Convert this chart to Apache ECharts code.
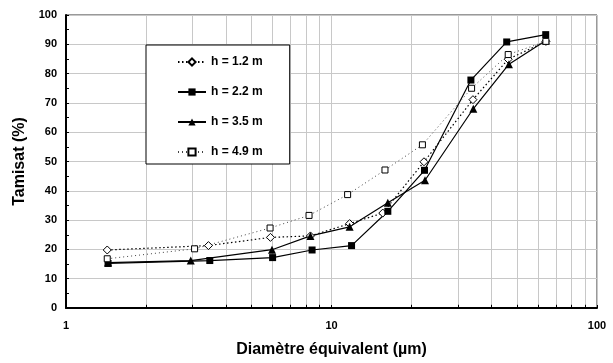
<!DOCTYPE html>
<html>
<head>
<meta charset="utf-8">
<script src="https://cdn.jsdelivr.net/npm/echarts@6/dist/echarts.min.js"></script>
<style>html,body{margin:0;padding:0;background:#fff;}#c{width:613px;height:363px;}</style>
</head>
<body>
<div id="c"></div>
<script>
// Data
const seriesNames = ['h = 1.2 m', 'h = 2.2 m', 'h = 3.5 m', 'h = 4.9 m'];
const d12 = [1.43, 3.44, 5.89, 8.33, 11.7, 15.6, 22.3, 34.1, 46.3, 64.2];
const t12 = [19.8, 21.3, 24.1, 24.6, 28.8, 32.4, 49.9, 71.1, 84.9, 91.0];
const d22 = [1.44, 3.48, 6.0, 8.45, 11.9, 16.3, 22.4, 33.5, 45.7, 64.1];
const t22 = [15.2, 16.2, 17.2, 19.8, 21.3, 33.0, 47.0, 77.8, 90.8, 93.3];
const d35 = [1.44, 2.95, 5.97, 8.33, 11.7, 16.3, 22.5, 34.2, 46.6, 64.2];
const t35 = [15.5, 16.2, 19.9, 24.6, 27.7, 35.9, 43.6, 68.0, 83.2, 91.3];
const d49 = [1.43, 3.05, 5.87, 8.23, 11.5, 15.9, 22.0, 33.7, 46.3, 64.2];
const t49 = [16.8, 20.2, 27.3, 31.6, 38.7, 47.1, 55.7, 75.0, 86.5, 91.0];
const minorX = [2, 3, 4, 5, 6, 7, 8, 9, 20, 30, 40, 50, 60, 70, 80, 90];
const xTitle = 'Diamètre équivalent (µm)';
const yTitle = 'Tamisat (%)';

const FONT = "'Liberation Sans', Arial, sans-serif";
const pairs = (xs, ys) => xs.map((x, i) => [x, ys[i]]);

const chart = echarts.init(document.getElementById('c'), null, {renderer: 'canvas'});
chart.setOption({
  animation: false,
  backgroundColor: '#fff',
  textStyle: {fontFamily: FONT},
  grid: {left: 66, top: 15, width: 531, height: 297, show: true, borderColor: '#333', borderWidth: 1},
  legend: {
    data: seriesNames,
    orient: 'vertical',
    left: 146, top: 45,
    padding: [10, 27, 5, 31],
    itemWidth: 28, itemHeight: 9, itemGap: 16,
    backgroundColor: '#fff', borderColor: '#000', borderWidth: 1, borderRadius: 0,
    textStyle: {fontFamily: FONT, fontWeight: 'bold', fontSize: 12, color: '#000', lineHeight: 14},
    selectedMode: false
  },
  xAxis: {
    type: 'log', logBase: 10, min: 1, max: 100,
    name: xTitle, nameLocation: 'middle', nameGap: 34,
    nameTextStyle: {fontFamily: FONT, fontWeight: 'bold', fontSize: 16, color: '#000'},
    axisLine: {show: true, lineStyle: {color: '#000', width: 2}},
    axisTick: {show: true, inside: true, length: 3, lineStyle: {color: '#000'}},
    axisLabel: {fontFamily: FONT, fontWeight: 'bold', fontSize: 11, color: '#000', margin: 12,
      formatter: v => String(v)},
    splitLine: {show: true, lineStyle: {color: '#c8c8c8', width: 1}}
  },
  yAxis: {
    type: 'value', min: 0, max: 100, interval: 10,
    name: yTitle, nameLocation: 'middle', nameGap: 33,
    nameTextStyle: {fontFamily: FONT, fontWeight: 'bold', fontSize: 16, color: '#000'},
    axisLine: {show: true, lineStyle: {color: '#000', width: 2}},
    axisTick: {show: true, inside: true, length: 3, lineStyle: {color: '#000'}},
    minorTick: {show: true, splitNumber: 2, length: 3, lineStyle: {color: '#000'}},
    axisLabel: {fontFamily: FONT, fontWeight: 'bold', fontSize: 11, color: '#000', margin: 9},
    splitLine: {show: true, lineStyle: {color: '#c8c8c8', width: 1}}
  },
  series: [
    {
      type: 'line', name: 'minorGrid', silent: true, z: 1,
      data: [[1, 0]], showSymbol: false, symbol: 'none',
      lineStyle: {opacity: 0},
      markLine: {
        silent: true, symbol: 'none', animation: false, z: 1,
        label: {show: false},
        lineStyle: {color: '#c8c8c8', width: 1, type: 'solid'},
        emphasis: {disabled: true},
        data: minorX.map(x => ({xAxis: x}))
      }
    },
    {
      type: 'line', name: 'minorTicks', silent: true, z: 3,
      data: [[1, 0]], showSymbol: false, symbol: 'none',
      lineStyle: {opacity: 0},
      markLine: {
        silent: true, symbol: 'none', animation: false, z: 3,
        label: {show: false},
        lineStyle: {color: '#000', width: 1, type: 'solid'},
        emphasis: {disabled: true},
        data: minorX.map(x => [{coord: [x, 0]}, {coord: [x, 1.1]}])
      }
    },
    {
      name: seriesNames[0], type: 'line', data: pairs(d12, t12),
      symbol: 'diamond', symbolSize: 8,
      itemStyle: {color: '#fff', borderColor: '#000', borderWidth: 1},
      lineStyle: {color: '#000', width: 1.2, type: [1.5, 2.5]}
    },
    {
      name: seriesNames[1], type: 'line', data: pairs(d22, t22),
      symbol: 'rect', symbolSize: 7,
      itemStyle: {color: '#000', borderColor: '#000', borderWidth: 0},
      lineStyle: {color: '#000', width: 1.2, type: 'solid'}
    },
    {
      name: seriesNames[2], type: 'line', data: pairs(d35, t35),
      symbol: 'triangle', symbolSize: 8,
      itemStyle: {color: '#000', borderColor: '#000', borderWidth: 0},
      lineStyle: {color: '#000', width: 1.2, type: 'solid'}
    },
    {
      name: seriesNames[3], type: 'line', data: pairs(d49, t49),
      symbol: 'rect', symbolSize: 6,
      itemStyle: {color: '#fff', borderColor: '#000', borderWidth: 1},
      lineStyle: {color: '#444', width: 1, type: [1, 3]}
    }
  ]
});
</script>
</body>
</html>
